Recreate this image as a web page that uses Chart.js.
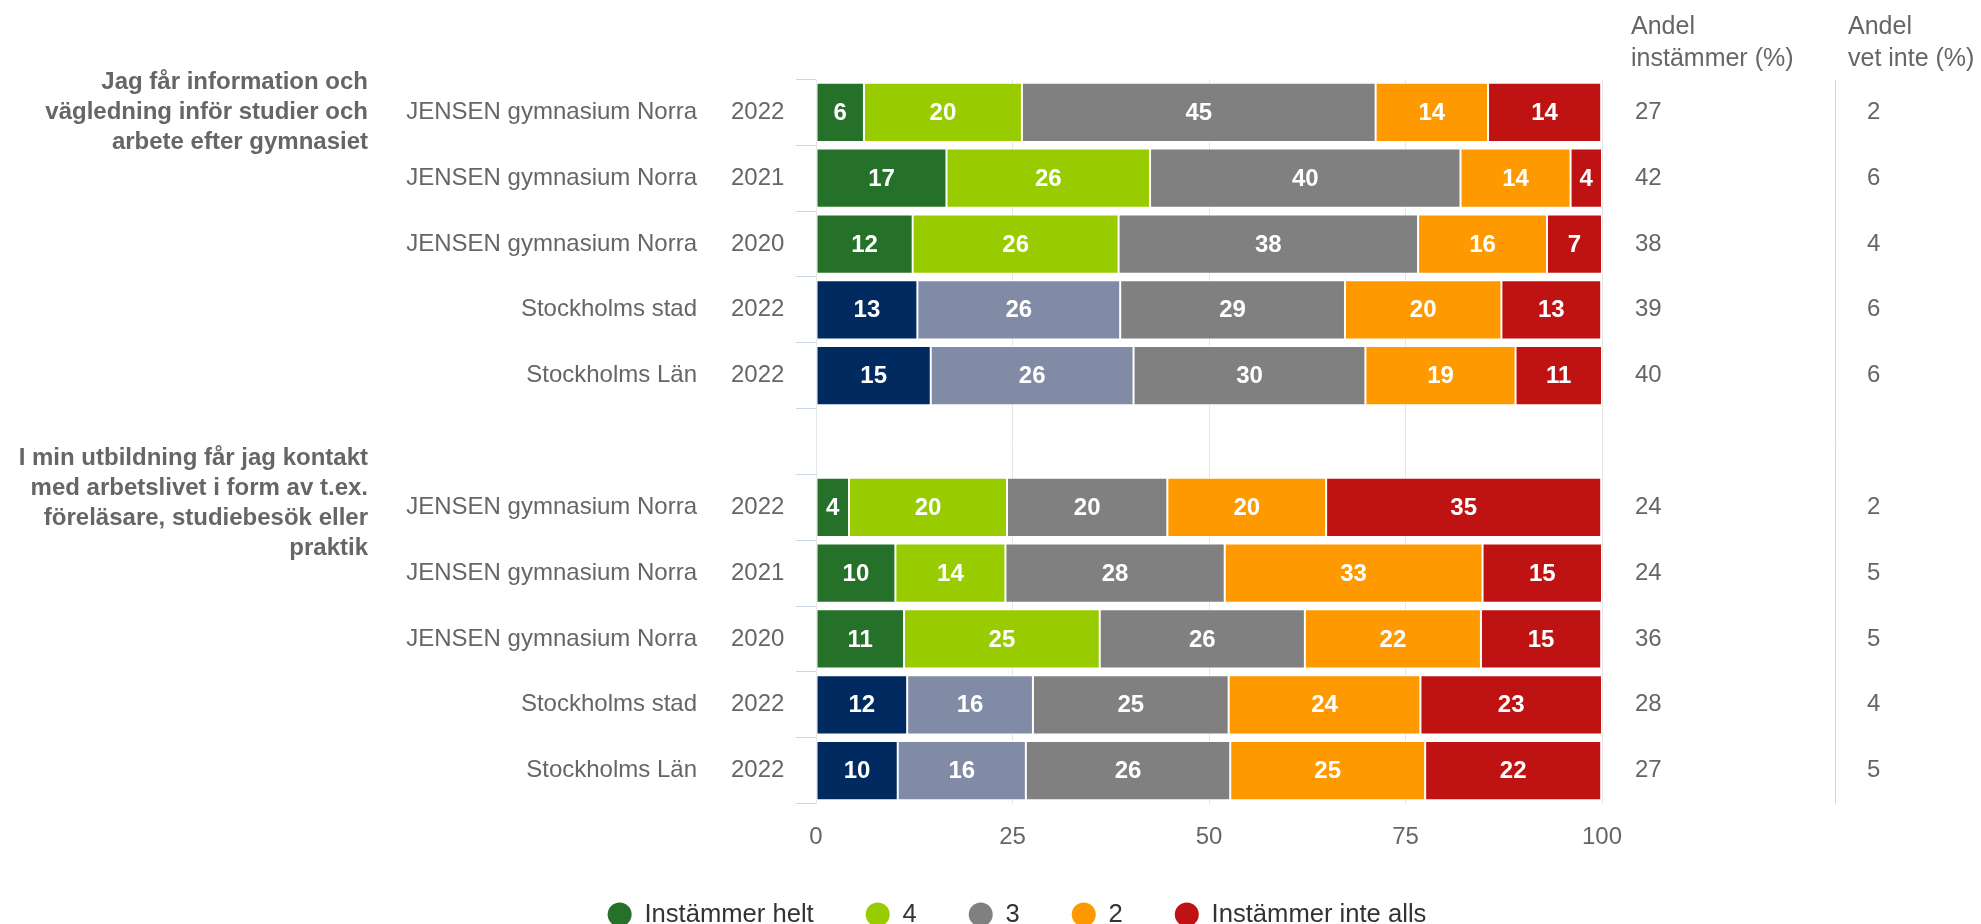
<!DOCTYPE html>
<html><head><meta charset="utf-8">
<script src="https://cdn.jsdelivr.net/npm/chart.js@4.4.1/dist/chart.umd.min.js"></script>
<style>html,body{margin:0;padding:0;background:#fff;overflow:hidden}</style>
</head><body>
<canvas id="c" width="1981" height="924"></canvas>
<script>
// ---- data ----
const rowNames = ["JENSEN gymnasium Norra","JENSEN gymnasium Norra","JENSEN gymnasium Norra","Stockholms stad","Stockholms Län","",
                  "JENSEN gymnasium Norra","JENSEN gymnasium Norra","JENSEN gymnasium Norra","Stockholms stad","Stockholms Län"];
const rowYears = ["2022","2021","2020","2022","2022","","2022","2021","2020","2022","2022"];
const seriesNames = ["Instämmer helt","4","3","2","Instämmer inte alls"];
const valuesHelt  = [6.1, 16.6, 12.3, 12.9, 14.6, null, 4.2, 10.1, 11.2, 11.6, 10.4];
const values4     = [20.1, 25.9, 26.2, 25.8, 25.8, null, 20.1, 14.0, 24.9, 16.0, 16.3];
const values3     = [45.0, 39.5, 38.1, 28.6, 29.5, null, 20.4, 27.9, 26.1, 24.9, 26.0];
const values2     = [14.3, 14.0, 16.4, 19.9, 19.1, null, 20.2, 32.8, 22.4, 24.4, 24.8];
const valuesInte  = [14.4, 4.0, 7.0, 12.7, 11.0, null, 35.0, 15.2, 15.3, 23.1, 22.4];
const shareAgree    = [27, 42, 38, 39, 40, null, 24, 24, 36, 28, 27];
const shareDontKnow = [2, 6, 4, 6, 6, null, 2, 5, 5, 4, 5];
const xTicks = [0, 25, 50, 75, 100];
const groupLabels = [
  ["Jag får information och","vägledning inför studier och","arbete efter gymnasiet"],
  ["I min utbildning får jag kontakt","med arbetslivet i form av t.ex.","föreläsare, studiebesök eller","praktik"]
];
const groupRows = [0, 6];
const columnHeaders = [["Andel","instämmer (%)"],["Andel","vet inte (%)"]];

// ---- style ----
const FONT = '"Liberation Sans", Arial, Helvetica, sans-serif';
const seriesColors = ["#267129","#99cc00","#808080","#ff9900","#bf1313"];
const regionColors = ["#002a60","#828ba6"];
const seriesValues = [valuesHelt, values4, values3, values2, valuesInte];

const valueLabelPlugin = {
  id: 'valueLabels',
  afterDatasetsDraw(chart) {
    const ctx = chart.ctx;
    ctx.save();
    ctx.font = 'bold 24px ' + FONT;
    ctx.fillStyle = '#ffffff';
    ctx.textAlign = 'center';
    ctx.textBaseline = 'middle';
    chart.data.datasets.forEach((ds, k) => {
      const meta = chart.getDatasetMeta(k);
      meta.data.forEach((el, i) => {
        const v = ds.data[i];
        if (v == null) return;
        const p = el.getProps(['x', 'y', 'base'], true);
        ctx.fillText(String(Math.round(v)), (p.x + p.base) / 2, p.y + 1);
      });
    });
    ctx.restore();
  }
};

const sideLabelPlugin = {
  id: 'sideLabels',
  afterDraw(chart) {
    const ctx = chart.ctx, ys = chart.scales.y, area = chart.chartArea;
    ctx.save();
    ctx.fillStyle = '#666666';
    ctx.textBaseline = 'middle';
    ctx.font = '24px ' + FONT;
    rowNames.forEach((n, i) => {
      if (!n) return;
      const py = ys.getPixelForValue(i);
      ctx.textAlign = 'right';
      ctx.fillText(n, 697, py);
      ctx.textAlign = 'left';
      ctx.fillText(rowYears[i], 731, py);
      ctx.fillText(String(shareAgree[i]), 1635, py);
      ctx.fillText(String(shareDontKnow[i]), 1867, py);
    });
    ctx.font = 'bold 24px ' + FONT;
    ctx.textAlign = 'right';
    groupLabels.forEach((lines, g) => {
      const py = ys.getPixelForValue(groupRows[g]);
      const n = lines.length;
      const first = py - 30 * Math.floor(n / 2) + (n % 2 === 0 ? 11 : 0);
      lines.forEach((l, k) => ctx.fillText(l, 368, first + 30 * k));
    });
    ctx.font = '25px ' + FONT;
    ctx.textAlign = 'left';
    const hx = [1631, 1848];
    columnHeaders.forEach((lines, c) => {
      lines.forEach((l, k) => ctx.fillText(l, hx[c], 27 + 32 * k));
    });
    ctx.strokeStyle = '#ccd6eb';
    ctx.lineWidth = 1;
    ctx.beginPath();
    ctx.moveTo(1835.5, area.top);
    ctx.lineTo(1835.5, area.bottom);
    ctx.stroke();
    ctx.restore();
  }
};

new Chart(document.getElementById('c'), {
  type: 'bar',
  data: {
    labels: rowNames.map((n, i) => n ? n + ' ' + rowYears[i] : ''),
    datasets: seriesNames.map((name, k) => ({
      label: name,
      data: seriesValues[k],
      backgroundColor: rowNames.map(n => (k < 2 && n.startsWith('Stockholm')) ? regionColors[k] : seriesColors[k]),
      borderColor: '#ffffff',
      borderWidth: 1,
      borderSkipped: false,
      barPercentage: 0.9,
      categoryPercentage: 1.0,
      xAxisID: 'x',
      yAxisID: 'y'
    }))
  },
  options: {
    indexAxis: 'y',
    responsive: false,
    animation: false,
    devicePixelRatio: 1,
    layout: { padding: { top: 79.5, left: 53, right: 0, bottom: -13.3 } },
    scales: {
      x: {
        type: 'linear', position: 'bottom', stacked: true, min: 0, max: 100,
        afterBuildTicks: s => { s.ticks = xTicks.map(v => ({ value: v })); },
        ticks: { color: '#666666', font: { size: 24, family: FONT }, padding: 19.4 },
        grid: { color: '#e6e6e6', drawTicks: false },
        border: { display: false },
        afterFit: s => { s.height = 46.2; }
      },
      y: {
        type: 'category', position: 'left', stacked: true,
        ticks: { display: false },
        grid: { display: true, drawOnChartArea: false, drawTicks: true, tickLength: 20, color: '#ccd6eb', offset: true },
        border: { display: false },
        afterFit: s => { s.width = 763; }
      },
      yR: {
        type: 'category', position: 'right',
        ticks: { display: false },
        grid: { display: false, drawTicks: false },
        border: { display: false },
        afterFit: s => { s.width = 379; }
      }
    },
    plugins: {
      legend: {
        position: 'bottom', align: 'center',
        labels: {
          usePointStyle: true, pointStyle: 'circle', pointStyleWidth: 24, boxHeight: 17,
          font: { size: 25.6, family: FONT }, color: '#333333', padding: 52,
          generateLabels: () => seriesNames.map((n, k) => ({
            text: n, fillStyle: seriesColors[k], strokeStyle: seriesColors[k], lineWidth: 0,
            pointStyle: 'circle', datasetIndex: k, hidden: false, fontColor: '#333333'
          }))
        }
      },
      tooltip: { enabled: false }
    }
  },
  plugins: [valueLabelPlugin, sideLabelPlugin]
});
</script>
</body></html>
